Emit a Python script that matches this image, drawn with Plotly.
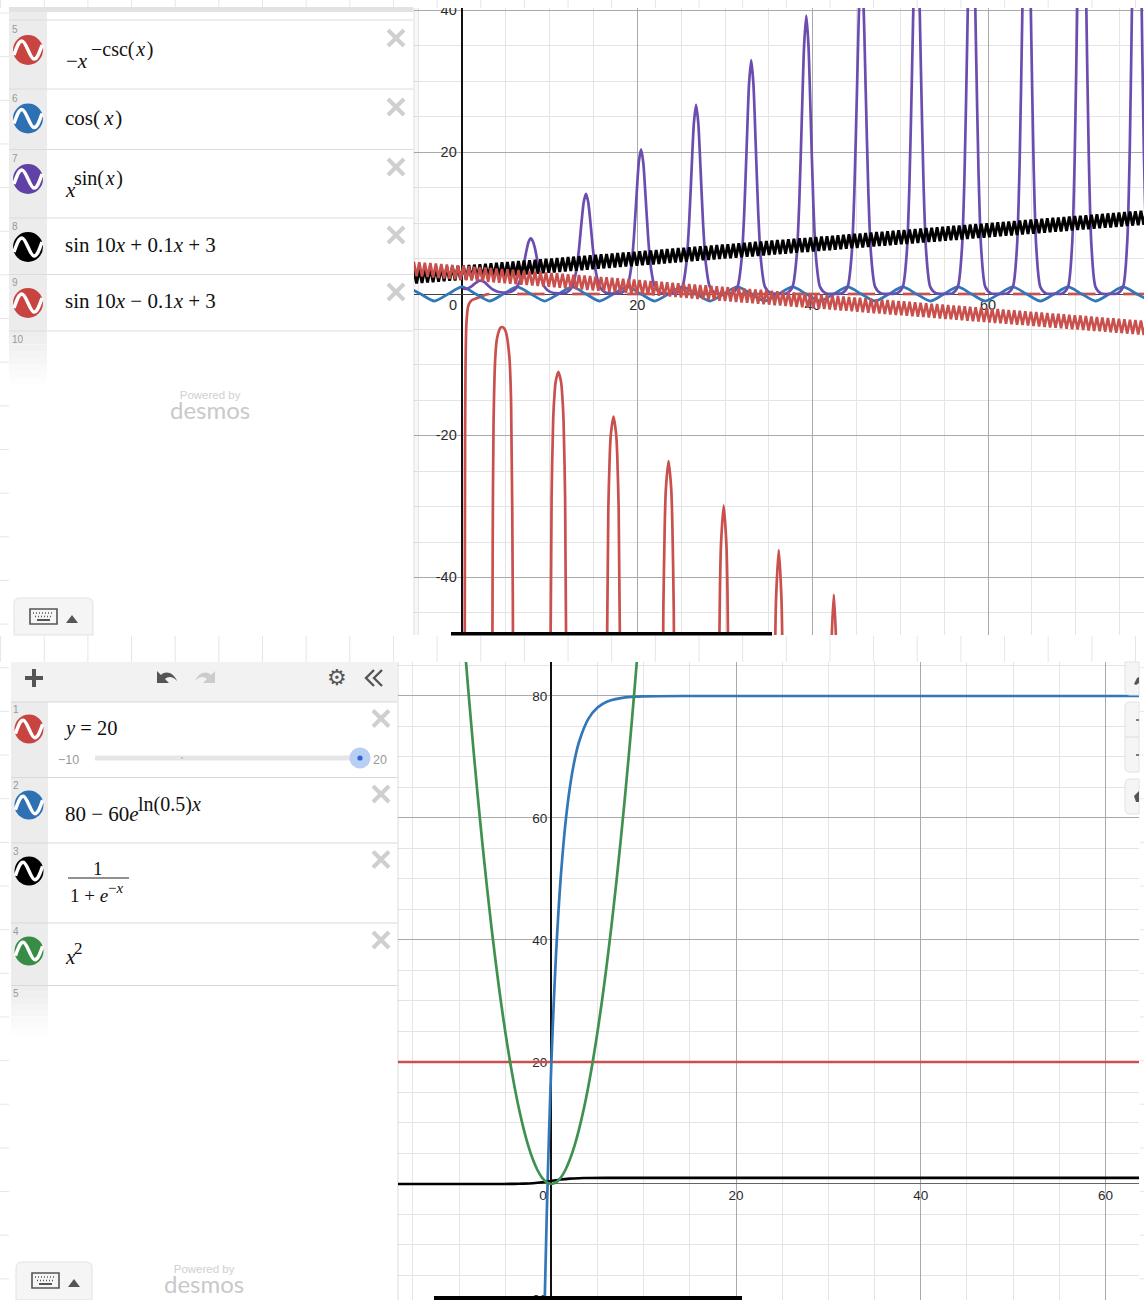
import plotly.graph_objects as go

W, H = 1144, 1300
RED, BLUE, GREEN, PURPLE, BLACK = "#c9504d", "#3277b8", "#3f9150", "#6b4db0", "#000000"

# ---------- top graph: values ----------
cos_x = [-6.28,-4.71,-3.14,-1.57,0,1.57,3.14,4.71,6.28,7.85,9.42,11.0,12.57,14.14,15.71,17.28,18.85,20.42,21.99,23.56,25.13,26.7,28.27,29.85,31.42,32.99,34.56,36.13,37.7,39.27,40.84,42.41,43.98,45.55,47.12,48.69,50.27,51.84,53.41,54.98,56.55,58.12,59.69,61.26,62.83,64.4,65.97,67.54,69.12,70.69,72.26,73.83,75.4,76.97,78.54]
cos_y = [1,0,-1,0,1,0,-1,0,1,0,-1,0,1,0,-1,0,1,0,-1,0,1,0,-1,0,1,0,-1,0,1,0,-1,0,1,0,-1,0,1,0,-1,0,1,0,-1,0,1,0,-1,0,1,0,-1,0,1,0,-1]

power_x = [0.1,.5,1,1.57,2,2.5,3,3.5,4,4.71,5.5,6,
 6.28,6.75,7.05,7.35,7.6,7.85,8.1,8.35,8.65,8.95,9.42,10.05,11,
 11.94,12.57,13.04,13.34,13.64,13.89,14.14,14.39,14.64,14.94,15.24,15.71,16.34,17.28,
 18.22,18.85,19.32,19.62,19.92,20.17,20.42,20.67,20.92,21.22,21.52,21.99,22.62,23.56,
 24.5,25.13,25.6,25.9,26.2,26.45,26.7,26.95,27.2,27.5,27.8,28.27,28.9,29.85,
 30.8,31.42,31.89,32.19,32.49,32.74,32.99,33.24,33.49,33.79,34.09,34.56,35.19,36.13,
 37.07,37.7,38.17,38.47,38.77,39.02,39.27,39.52,39.77,40.07,40.37,40.84,41.47,42.41,
 43.35,43.98,44.45,44.75,45.05,45.3,45.55,45.8,46.05,46.35,46.65,47.12,47.75,48.69,
 49.64,50.27,50.74,51.04,51.34,51.59,51.84,52.09,52.34,52.64,52.94,53.41,54.04,54.98,
 55.92,56.55,57.02,57.32,57.62,57.87,58.12,58.37,58.62,58.92,59.22,59.69,60.32,61.26,
 62.2,62.83,63.3,63.6,63.9,64.15,64.4,64.65,64.9,65.2,65.5,65.97,66.6,67.54,
 68.49,69.12,69.59,69.89,70.19,70.44,70.69,70.94,71.19,71.49,71.79,72.26,72.89,73.83,
 74.77,75.4,75.87,76.17,76.47,76.72,76.97,77.22,77.47,77.77,78.07,78.54]
power_y = [.79,.72,1,1.57,1.88,1.73,1.17,.64,.35,.21,.3,.61,
 1,2.45,4.2,6.1,7.37,7.85,7.37,6.3,4.3,2.6,1,.3,.09,
 .21,1,3.33,6.3,10.2,13,14.14,13,10.2,6.3,3.33,1,.21,.06,
 .17,1,3.93,8.2,14.1,18.6,20.42,18.6,14.1,8.2,3.93,1,.17,.04,
 .14,1,4.44,9.87,17.9,24.1,26.7,24.1,17.9,9.87,4.44,1,.14,.03,
 .13,1,4.89,11.4,21.5,29.6,33,29.6,21.5,11.4,4.89,1,.13,.03,
 .12,1,5.29,12.9,25.1,35,39.27,35,25.1,12.9,5.29,1,.12,.03,
 .11,1,5.66,14.3,28.6,40.5,45.55,40.5,28.6,14.3,5.66,1,.11,.02,
 .1,1,6,15.7,32,45.9,51.84,45.9,32,15.7,6,1,.1,.02,
 .09,1,6.33,17,35.4,51.3,58.12,51.3,35.4,17,6.33,1,.09,.02,
 .09,1,6.63,18.2,38.7,56.6,64.4,56.6,38.7,18.2,6.63,1,.09,.02,
 .08,1,6.91,19.5,42,61.9,70.69,61.9,42,19.5,6.91,1,.08,.01,
 .08,1,7.18,20.6,45.3,67.2,76.97,67.2,45.3,20.6,7.18,1]

csc_x = [.3,.35,.4,.5,.7,1,1.3,1.57,2,2.5,2.8,3.14,None,
 3.45,3.5,3.6,3.8,4.0,4.41,4.71,5.01,5.4,5.6,5.8,5.85,None,
 6.28,9.42,None,
 10.05,10.22,10.4,10.56,10.68,10.99,11.3,11.42,11.58,11.76,11.93,None,
 12.57,15.71,None,
 16.51,16.69,16.85,16.97,17.28,17.59,17.71,17.87,18.05,None,
 18.85,21.99,None,
 22.87,22.97,23.13,23.25,23.56,23.87,23.99,24.15,24.25,None,
 25.13,28.27,None,
 29.26,29.42,29.54,29.85,30.16,30.28,30.44,None,
 31.42,34.56,None,
 35.54,35.70,35.82,36.13,36.44,36.56,36.72,None,
 37.7,40.84,None,
 41.98,42.1,42.41,42.72,42.84,None,
 43.98,47.12,None,50.27,53.41,None,56.55,59.69,None,62.83,65.97,None,69.12,72.26,None,75.4,78.54]
csc_y = [-58.7,-21.3,-10.5,-4.24,-1.74,-1,-.76,-.64,-.47,-.22,-.05,0,None,
 -59,-35.5,-18.1,-8.85,-6.24,-4.73,-4.71,-5.38,-8.85,-15.3,-43.8,-67,None,
 0,0,None,
 -58.9,-28.7,-17.7,-14,-12.4,-10.99,-12.4,-14,-17.7,-28.7,-58.9,None,
 0,0,None,
 -54.1,-30.4,-22.9,-19.9,-17.28,-19.9,-22.9,-30.4,-54.1,None,
 0,0,None,
 -60.9,-44.3,-32.3,-27.6,-23.56,-27.6,-32.3,-44.3,-60.9,None,
 0,0,None,
 -58.9,-41.9,-35.4,-29.85,-35.4,-41.9,-58.9,None,
 0,0,None,
 -74,-51.6,-43.1,-36.13,-43.1,-51.6,-74,None,
 0,0,None,
 -61.6,-51,-42.41,-51,-61.6,None,
 0,0,None,0,0,None,0,0,None,0,0,None,0,0,None,0,0]

wave_x = [-6.13,-5.81,-5.50,-5.18,-4.87,-4.56,-4.24,-3.93,-3.61,-3.30,
 -2.98,-2.67,-2.36,-2.04,-1.73,-1.41,-1.10,-.79,-.47,-.16,
 .16,.47,.79,1.10,1.41,1.73,2.04,2.36,2.67,2.98,
 3.30,3.61,3.93,4.24,4.56,4.87,5.18,5.50,5.81,6.13,
 6.44,6.76,7.07,7.38,7.70,8.01,8.33,8.64,8.95,9.27,
 9.58,9.90,10.21,10.52,10.84,11.15,11.47,11.78,12.10,12.41,
 12.72,13.04,13.35,13.67,13.98,14.29,14.61,14.92,15.24,15.55,
 15.86,16.18,16.49,16.81,17.12,17.44,17.75,18.06,18.38,18.69,
 19.01,19.32,19.63,19.95,20.26,20.58,20.89,21.21,21.52,21.83,
 22.15,22.46,22.78,23.09,23.40,23.72,24.03,24.35,24.66,24.98,
 25.29,25.60,25.92,26.23,26.55,26.86,27.18,27.49,27.80,28.12,
 28.43,28.75,29.06,29.37,29.69,30.00,30.32,30.63,30.95,31.26,
 31.57,31.89,32.20,32.52,32.83,33.14,33.46,33.77,34.09,34.40,
 34.72,35.03,35.34,35.66,35.97,36.29,36.60,36.91,37.23,37.54,
 37.86,38.17,38.49,38.80,39.11,39.43,39.74,40.06,40.37,40.69,
 41.00,41.31,41.63,41.94,42.26,42.57,42.88,43.20,43.51,43.83,
 44.14,44.46,44.77,45.08,45.40,45.71,46.03,46.34,46.65,46.97,
 47.28,47.60,47.91,48.23,48.54,48.85,49.17,49.48,49.80,50.11,
 50.42,50.74,51.05,51.37,51.68,52.00,52.31,52.62,52.94,53.25,
 53.57,53.88,54.19,54.51,54.82,55.14,55.45,55.77,56.08,56.39,
 56.71,57.02,57.34,57.65,57.96,58.28,58.59,58.91,59.22,59.54,
 59.85,60.16,60.48,60.79,61.11,61.42,61.73,62.05,62.36,62.68,
 62.99,63.31,63.62,63.93,64.25,64.56,64.88,65.19,65.50,65.82,
 66.13,66.45,66.76,67.08,67.39,67.70,68.02,68.33,68.65,68.96,
 69.27,69.59,69.90,70.22,70.53,70.85,71.16,71.47,71.79,72.10,
 72.42,72.73,73.04,73.36,73.67,73.99,74.30,74.62,74.93,75.24,
 75.56,75.87,76.19,76.50,76.81,77.13,77.44,77.76,78.07,78.39]
wave_up_y = [3.39,1.42,3.45,1.48,3.51,1.54,3.58,1.61,3.64,1.67,
 3.70,1.73,3.76,1.80,3.83,1.86,3.89,1.92,3.95,1.98,
 4.02,2.05,4.08,2.11,4.14,2.17,4.20,2.24,4.27,2.30,
 4.33,2.36,4.39,2.42,4.46,2.49,4.52,2.55,4.58,2.61,
 4.64,2.68,4.71,2.74,4.77,2.80,4.83,2.86,4.90,2.93,
 4.96,2.99,5.02,3.05,5.08,3.12,5.15,3.18,5.21,3.24,
 5.27,3.30,5.34,3.37,5.40,3.43,5.46,3.49,5.52,3.56,
 5.59,3.62,5.65,3.68,5.71,3.74,5.78,3.81,5.84,3.87,
 5.90,3.93,5.96,4.00,6.03,4.06,6.09,4.12,6.15,4.18,
 6.22,4.25,6.28,4.31,6.34,4.37,6.40,4.44,6.47,4.50,
 6.53,4.56,6.59,4.62,6.66,4.69,6.72,4.75,6.78,4.81,
 6.84,4.88,6.91,4.94,6.97,5.00,7.03,5.06,7.10,5.13,
 7.16,5.19,7.22,5.25,7.28,5.31,7.35,5.38,7.41,5.44,
 7.47,5.50,7.53,5.57,7.60,5.63,7.66,5.69,7.72,5.75,
 7.79,5.82,7.85,5.88,7.91,5.94,7.97,6.01,8.04,6.07,
 8.10,6.13,8.16,6.19,8.23,6.26,8.29,6.32,8.35,6.38,
 8.41,6.45,8.48,6.51,8.54,6.57,8.60,6.63,8.67,6.70,
 8.73,6.76,8.79,6.82,8.85,6.89,8.92,6.95,8.98,7.01,
 9.04,7.07,9.11,7.14,9.17,7.20,9.23,7.26,9.29,7.33,
 9.36,7.39,9.42,7.45,9.48,7.51,9.55,7.58,9.61,7.64,
 9.67,7.70,9.73,7.77,9.80,7.83,9.86,7.89,9.92,7.95,
 9.99,8.02,10.05,8.08,10.11,8.14,10.17,8.21,10.24,8.27,
 10.30,8.33,10.36,8.39,10.43,8.46,10.49,8.52,10.55,8.58,
 10.61,8.65,10.68,8.71,10.74,8.77,10.80,8.83,10.87,8.90,
 10.93,8.96,10.99,9.02,11.05,9.09,11.12,9.15,11.18,9.21,
 11.24,9.27,11.30,9.34,11.37,9.40,11.43,9.46,11.49,9.52,
 11.56,9.59,11.62,9.65,11.68,9.71,11.74,9.78,11.81,9.84]
wave_down_y = [4.61,2.58,4.55,2.52,4.49,2.46,4.42,2.39,4.36,2.33,
 4.30,2.27,4.24,2.20,4.17,2.14,4.11,2.08,4.05,2.02,
 3.98,1.95,3.92,1.89,3.86,1.83,3.80,1.76,3.73,1.70,
 3.67,1.64,3.61,1.58,3.54,1.51,3.48,1.45,3.42,1.39,
 3.36,1.32,3.29,1.26,3.23,1.20,3.17,1.14,3.11,1.07,
 3.04,1.01,2.98,.95,2.92,.89,2.85,.82,2.79,.76,
 2.73,.70,2.67,.63,2.60,.57,2.54,.51,2.48,.45,
 2.41,.38,2.35,.32,2.29,.26,2.23,.19,2.16,.13,
 2.10,.07,2.04,.01,1.97,-.06,1.91,-.12,1.85,-.18,
 1.79,-.25,1.72,-.31,1.66,-.37,1.60,-.44,1.53,-.50,
 1.47,-.56,1.41,-.62,1.35,-.69,1.28,-.75,1.22,-.81,
 1.16,-.88,1.09,-.94,1.03,-1.00,.97,-1.06,.91,-1.13,
 .84,-1.19,.78,-1.25,.72,-1.31,.65,-1.38,.59,-1.44,
 .53,-1.50,.47,-1.57,.40,-1.63,.34,-1.69,.28,-1.75,
 .21,-1.82,.15,-1.88,.09,-1.94,.03,-2.01,-.04,-2.07,
 -.10,-2.13,-.16,-2.19,-.23,-2.26,-.29,-2.32,-.35,-2.38,
 -.41,-2.45,-.48,-2.51,-.54,-2.57,-.60,-2.63,-.67,-2.70,
 -.73,-2.76,-.79,-2.82,-.85,-2.89,-.92,-2.95,-.98,-3.01,
 -1.04,-3.07,-1.11,-3.14,-1.17,-3.20,-1.23,-3.26,-1.29,-3.33,
 -1.36,-3.39,-1.42,-3.45,-1.48,-3.51,-1.55,-3.58,-1.61,-3.64,
 -1.67,-3.70,-1.73,-3.77,-1.80,-3.83,-1.86,-3.89,-1.92,-3.95,
 -1.99,-4.02,-2.05,-4.08,-2.11,-4.14,-2.17,-4.21,-2.24,-4.27,
 -2.30,-4.33,-2.36,-4.39,-2.43,-4.46,-2.49,-4.52,-2.55,-4.58,
 -2.61,-4.65,-2.68,-4.71,-2.74,-4.77,-2.80,-4.83,-2.87,-4.90,
 -2.93,-4.96,-2.99,-5.02,-3.05,-5.09,-3.12,-5.15,-3.18,-5.21,
 -3.24,-5.27,-3.30,-5.34,-3.37,-5.40,-3.43,-5.46,-3.49,-5.52,
 -3.56,-5.59,-3.62,-5.65,-3.68,-5.71,-3.74,-5.78,-3.81,-5.84]

# ---------- bottom graph: values ----------
const_x = [-16.7, 64.3]
const_y = [20, 20]
decay_x = [-.75,-.5,-.25,0,.25,.5,.75,1,1.5,2,2.5,3,4,5,6,8,10,15,64.3]
decay_y = [-20.9,-4.9,8.6,20,29.5,37.6,44.3,50,58.8,65,69.4,72.5,76.25,78.1,79.06,79.77,79.94,80,80]
logistic_x = [-16.7,-6,-4,-3,-2,-1,0,1,2,3,4,6,64.3]
logistic_y = [0,0,.02,.05,.12,.27,.5,.73,.88,.95,.98,1,1]
square_x = [-9.5,-9,-8.5,-8,-7.5,-7,-6.5,-6,-5.5,-5,-4.5,-4,-3.5,-3,-2.5,-2,-1.5,-1,-.5,0,.5,1,1.5,2,2.5,3,3.5,4,4.5,5,5.5,6,6.5,7,7.5,8,8.5,9,9.5]
square_y = [90.25,81,72.25,64,56.25,49,42.25,36,30.25,25,20.25,16,12.25,9,6.25,4,2.25,1,.25,0,.25,1,2.25,4,6.25,9,12.25,16,20.25,25,30.25,36,42.25,49,56.25,64,72.25,81,90.25]

# ---------- tick labels ----------
top_xtick_vals = [0, 20, 40, 60]
top_xtick_text = ["0", "20", "40", "60"]
top_ytick_vals = [40, 20, -20, -40]
top_ytick_text = ["40", "20", "-20", "-40"]
bot_xtick_vals = [0, 20, 40, 60]
bot_xtick_text = ["0", "20", "40", "60"]
bot_ytick_vals = [80, 60, 40, 20, -18.85]
bot_ytick_text = ["80", "60", "40", "20", "-20"]

FONT = "Liberation Sans"
SERIF = "Liberation Serif"
SHADOW = "0px 0px 3px white"


def X(p):
    return p / W


def Y(p):
    return 1 - p / H


fig = go.Figure()


def line_trace(x, y, color, width, axes, spline=True, smoothing=0.7):
    shape = dict(color=color, width=width)
    if spline:
        shape.update(shape="spline", smoothing=smoothing)
    fig.add_trace(go.Scatter(x=x, y=y, mode="lines", line=shape, xaxis=axes[0], yaxis=axes[1],
                             hoverinfo="skip", showlegend=False))


def label_trace(x, y, text, pos, size, axes):
    fig.add_trace(go.Scatter(x=x, y=y, text=text, mode="text", textposition=pos,
                             textfont=dict(family=FONT, size=size, color="#2b2b2b", shadow=SHADOW),
                             xaxis=axes[0], yaxis=axes[1], hoverinfo="skip", showlegend=False))


T = ("x", "y")
B = ("x2", "y2")
# top graph
label_trace([-.6] * 4, [v - .15 for v in top_ytick_vals], top_ytick_text, "middle left", 14.5, T)
label_trace([v - 1.03 if v == 0 else v for v in top_xtick_vals], [-1.75] * 4, top_xtick_text, "middle center", 14.5, T)
line_trace(csc_x, csc_y, RED, 2.7, T)
line_trace(cos_x, cos_y, BLUE, 2.7, T)
line_trace(power_x, power_y, PURPLE, 2.7, T)
line_trace(wave_x, wave_up_y, BLACK, 2.9, T, spline=False)
line_trace(wave_x, wave_down_y, RED, 2.6, T, spline=False)
# bottom graph
label_trace([-.45] * 5, [v - .25 for v in bot_ytick_vals], bot_ytick_text, "middle left", 13.5, B)
label_trace([v - .9 if v == 0 else v for v in bot_xtick_vals], [-2.1] * 4, bot_xtick_text, "middle center", 13.5, B)
line_trace(const_x, const_y, RED, 2.6, B, spline=False)
line_trace(decay_x, decay_y, BLUE, 2.7, B)
line_trace(logistic_x, logistic_y, BLACK, 2.6, B)
line_trace(square_x, square_y, GREEN, 2.7, B)

MAJOR, MINOR = "#a9a9a9", "#e4e4e4"


def axis_style(dtick=20, zero="#111111", zw=1.6):
    return dict(tick0=0, dtick=dtick, showgrid=True, gridcolor=MAJOR, gridwidth=1, zeroline=True, zerolinecolor=zero,
                zerolinewidth=zw, showticklabels=False, ticks="", showline=False, fixedrange=True,
                minor=dict(tick0=0, dtick=5, showgrid=True, gridcolor=MINOR, gridwidth=1.2))


fig.update_layout(
    width=W, height=H, autosize=False, margin=dict(l=0, r=0, t=0, b=0, pad=0),
    paper_bgcolor="white", plot_bgcolor="white", showlegend=False,
    xaxis=dict(domain=[X(414), 1], range=[-5.475, 77.79], anchor="y", **axis_style()),
    yaxis=dict(domain=[Y(635), Y(8)], range=[-48.11, 40.35], anchor="x", **axis_style(zero="#444444", zw=1.2)),
    xaxis2=dict(domain=[X(398), X(1139)], range=[-16.61, 63.63], anchor="y2", **axis_style()),
    yaxis2=dict(domain=[0, Y(662)], range=[-19.02, 85.57], anchor="x2", **axis_style(zero="#666666", zw=1.2)),
)

shapes, notes = [], []


def rect(x0, y0, x1, y1, fill, line=None, above=False, lw=1):
    shapes.append(dict(type="rect", xref="paper", yref="paper", x0=X(x0), x1=X(x1), y0=Y(y0), y1=Y(y1),
                       fillcolor=fill, line=dict(color=line or fill, width=lw if line else 0),
                       layer="above" if above else "below"))


def seg(x0, y0, x1, y1, color, width=1, dash=None, above=False):
    shapes.append(dict(type="line", xref="paper", yref="paper", x0=X(x0), x1=X(x1), y0=Y(y0), y1=Y(y1),
                       line=dict(color=color, width=width, dash=dash or "solid"),
                       layer="above" if above else "below"))


def path(cmds, fill=None, color=None, width=0, above=True):
    out = []
    for c in cmds:
        if isinstance(c, str):
            out.append(c)
        else:
            out.append(f"{X(c[0]):.5f},{Y(c[1]):.5f}")
    shapes.append(dict(type="path", xref="paper", yref="paper", path=" ".join(out), fillcolor=fill or "rgba(0,0,0,0)",
                       line=dict(color=color or "rgba(0,0,0,0)", width=width), layer="above" if above else "below"))


def circle(cx, cy, r, fill, above=True):
    shapes.append(dict(type="circle", xref="paper", yref="paper", x0=X(cx - r), x1=X(cx + r), y0=Y(cy + r), y1=Y(cy - r),
                       fillcolor=fill, line=dict(width=0), layer="above" if above else "below"))


def note(text, px, py, size=21, color="#111111", font=SERIF, anchor="left"):
    notes.append(dict(text=text, xref="paper", yref="paper", x=X(px), y=Y(py), xanchor=anchor, yanchor="middle",
                      showarrow=False, font=dict(family=font, size=size, color=color), borderpad=0, borderwidth=0))


def icon(cx, cy, color, r=15):
    circle(cx, cy, r, color)
    s = r / 15
    P = lambda a, b: (cx + a * s, cy + b * s)
    path(["M", P(-14, 5), "C", P(-11, -4), P(-9, -9), P(-6, -9), "C", P(-2, -9), P(2, 9), P(6, 9),
          "C", P(9, 9), P(11, 4), P(14, -5)], color="white", width=3.4)


def cross(cx, cy):
    seg(cx - 8, cy - 8, cx + 8, cy + 8, "#cfcfcf", 4, above=True)
    seg(cx - 8, cy + 8, cx + 8, cy - 8, "#cfcfcf", 4, above=True)


def rbox(x0, y0, x1, y1, r=5, fill="#f5f5f5", line="#e2e2e2", tl=True, tr=True, bl=True, br=True):
    cmds = ["M", (x0 + (r if tl else 0), y0), "L", (x1 - (r if tr else 0), y0)]
    if tr:
        cmds += ["Q", (x1, y0), (x1, y0 + r)]
    cmds += ["L", (x1, y1 - (r if br else 0))]
    if br:
        cmds += ["Q", (x1, y1), (x1 - r, y1)]
    cmds += ["L", (x0 + (r if bl else 0), y1)]
    if bl:
        cmds += ["Q", (x0, y1), (x0, y1 - r)]
    cmds += ["L", (x0, y0 + (r if tl else 0))]
    if tl:
        cmds += ["Q", (x0, y0), (x0 + r, y0)]
    cmds += ["Z"]
    path(cmds, fill=fill, color=line, width=1)


def keyboard(x0, y0, x1, y1):
    rbox(x0, y0, x1, y1, 6, bl=False, br=False)
    kx, ky = x0 + 16, y0 + 11
    shapes.append(dict(type="rect", xref="paper", yref="paper", x0=X(kx), x1=X(kx + 27), y0=Y(ky), y1=Y(ky + 15),
                       fillcolor="#f5f5f5", line=dict(color="#555555", width=1.6), layer="above"))
    seg(kx + 3, ky + 4, kx + 24, ky + 4, "#555555", 1.6, dash="1px,2px", above=True)
    seg(kx + 5, ky + 7.5, kx + 22, ky + 7.5, "#555555", 1.6, dash="1px,2px", above=True)
    seg(kx + 7, ky + 11, kx + 20, ky + 11, "#555555", 2, above=True)
    tx, ty = x0 + 58, y0 + 21
    path(["M", (tx - 6, ty + 4), "L", (tx + 6, ty + 4), "L", (tx, ty - 4), "Z"], fill="#555555")


def fade(x0, x1, y0, y1, steps=8):
    for i in range(steps):
        g = 236 + int((255 - 236) * (i + 0.5) / steps)
        c = f"rgb({g},{g},{g})"
        rect(x0, y0 + (y1 - y0) * i / steps, x1, y0 + (y1 - y0) * (i + 1) / steps, c)


def brand(px, py):
    note("<span style='font-size:11.5px;color:#cfcfcf'>Powered by</span><br>"
         "<span style='font-family:Lato;font-size:24px;color:#c9c9c9'>desmos</span>",
         px, py, 15.5, "#cfcfcf", FONT, "center")


# background paper grid showing around the panels
for k in range(27):
    vx = 0.6 + 43.65 * k
    seg(vx, 0, vx, 8, "#e6e6e6")
    seg(vx, 636, vx, 662, "#e6e6e6")
for k in range(30):
    hy = 13 + 43.65 * k
    seg(0, hy, 9, hy, "#e6e6e6")
    if hy > 662:
        seg(1140, hy, 1144, hy, "#e6e6e6")

# ---- top expression list ----
rect(9, 7, 47, 331, "#ececec")
rect(9, 7, 413, 12, "#e2e2e2")
fade(9, 47, 331, 385)
rect(413, 8, 415, 635, "rgba(0,0,0,0.07)", above=True)
rect(415, 8, 418, 635, "rgba(0,0,0,0.03)", above=True)
for py in (20, 89, 149.5, 218, 274.5, 331):
    seg(9, py, 413, py, "#dcdcdc", 1, above=True)
for txt, py in (("5", 29), ("6", 98), ("7", 158), ("8", 226), ("9", 283), ("10", 339)):
    note(txt, 12, py, 10, "#999999", FONT)
for cy, col in ((50, "#c74440"), (118.5, "#2d70b3"), (179, "#6042a6"), (247, "#000000"), (303, "#c74440")):
    icon(28, cy, col)
for cy in (38, 107, 167, 235, 292):
    cross(396, cy)
note("\u2212<i>x</i>", 66, 61)
note("\u2212csc(\u200a<i>x</i>\u200a)", 91, 49, 20)
note("cos(\u2009<i>x</i>\u200a)", 65, 118)
note("<i>x</i>", 65, 190)
note("sin(\u200a<i>x</i>\u200a)", 74, 178, 20)
note("sin 10<i>x</i> + 0.1<i>x</i> + 3", 65, 245)
note("sin 10<i>x</i> \u2212 0.1<i>x</i> + 3", 65, 301)
brand(210, 407)
keyboard(14, 598, 93, 635)

# thick bars on the lower edge of both graphs
rect(451, 632, 772, 635.5, "#000000", above=True)
rect(434, 1296, 742, 1300, "#000000", above=True)

# ---- bottom expression list ----
rect(11, 662, 397, 702, "#f2f2f2")
rect(11, 702, 48, 985.5, "#ececec")
fade(11, 48, 985.5, 1035)
rect(397, 662, 399, 1300, "rgba(0,0,0,0.07)", above=True)
for py in (702, 777.5, 843, 923, 985.5):
    seg(11, py, 397, py, "#d8d8d8", 1, above=True)
for txt, py in (("1", 709), ("2", 785), ("3", 851), ("4", 931), ("5", 993)):
    note(txt, 13, py, 10, "#999999", FONT)
for cy, col in ((729, "#c74440"), (805, "#2d70b3"), (871, "#000000"), (951, "#388c46")):
    icon(29, cy, col, 14.5)
for cy in (718.5, 794, 859.5, 940):
    cross(381, cy)
# header buttons
seg(25, 678, 43, 678, "#555555", 4, above=True)
seg(34, 669, 34, 687, "#555555", 4, above=True)
path(["M", (157, 671), "L", (157, 683), "L", (169, 683), "L", (165, 679), "C", (168, 676), (173, 676), (177, 681),
      "C", (174, 673), (166, 670), (161, 675), "Z"], fill="#555555")
path(["M", (215, 671), "L", (215, 683), "L", (203, 683), "L", (207, 679), "C", (204, 676), (199, 676), (195, 681),
      "C", (198, 673), (206, 670), (211, 675), "Z"], fill="#cccccc")
note("\u2699", 336.5, 677.5, 22, "#555555", "DejaVu Sans", "center")
path(["M", (374, 670), "L", (366, 678), "L", (374, 686), "M", (382, 670), "L", (374, 678), "L", (382, 686)],
     color="#555555", width=2.4)
# slider
note("<i>y</i> = 20", 64, 728, 20.5)
note("\u221210", 58, 759.5, 12.5, "#999999", FONT)
note("20", 373, 759.5, 12.5, "#999999", FONT)
seg(95, 758, 358, 758, "#e6e6e6", 5, above=True)
circle(182, 758, 0.8, "#999999")
circle(360, 758, 10.5, "#b9cef3")
circle(360, 758, 2.6, "#2a66d9")
# formulas
note("80 \u2212 60<i>e</i>", 65, 814)
note("ln(0.5)<i>x</i>", 138, 804, 20)
note("1", 98, 868, 19, anchor="center")
seg(68, 878, 129, 878, "#222222", 1.2, above=True)
note("1 + <i>e</i>", 70, 895, 19)
note("\u2212<i>x</i>", 108, 888, 15)
note("<i>x</i>", 65, 957)
note("2", 74, 948, 17)
brand(204, 1280)
keyboard(16, 1262, 92, 1300)

# ---- graph buttons at right edge ----
rbox(1125, 662, 1139, 695, 5, tl=False, tr=False, br=False)
rbox(1125, 702, 1139, 772, 5, tr=False, br=False)
seg(1125, 737, 1139, 737, "#dddddd", 1, above=True)
rbox(1125, 779, 1139, 814, 5, tr=False, br=False)
path(["M", (1134, 684), "L", (1137, 678), "L", (1139, 677), "L", (1139, 683), "L", (1136, 685), "Z"], fill="#555555")
seg(1136, 720, 1139, 720, "#555555", 1.5, above=True)
seg(1136, 755, 1139, 755, "#555555", 1.5, above=True)
path(["M", (1134, 796), "L", (1139, 791), "L", (1139, 802), "L", (1136, 802), "Z"], fill="#555555")

fig.update_layout(shapes=shapes, annotations=notes)
fig.write_html("out.html", config=dict(displayModeBar=False, responsive=False),
               post_script="document.body.style.margin='0';document.documentElement.style.overflow='hidden';")
